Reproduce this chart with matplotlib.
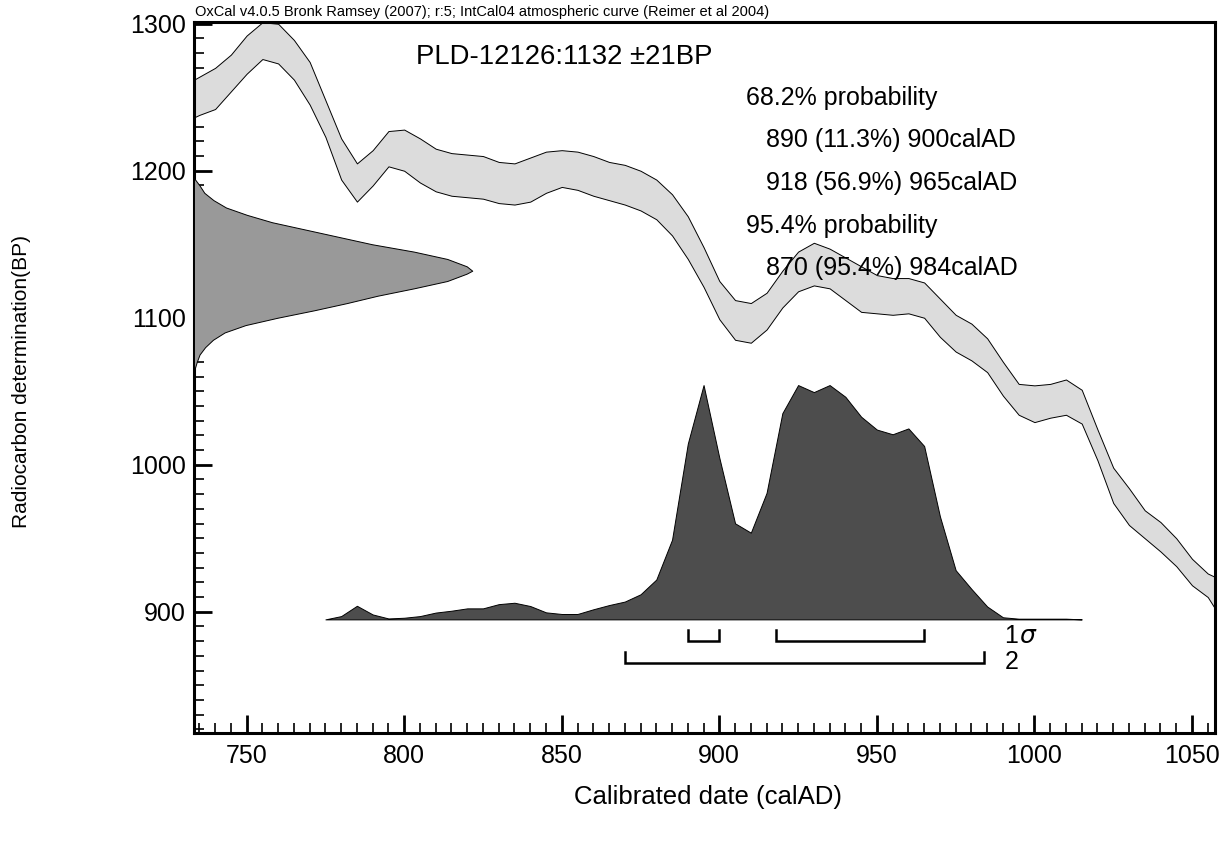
import numpy as np
import matplotlib.pyplot as plt
from matplotlib.ticker import MultipleLocator

plt.rcParams['font.family'] = ['Liberation Sans', 'DejaVu Sans']

# calibration curve IntCal04 (calAD, upper / lower limit in BP)
curve_ad = [730, 735, 740, 745, 750, 755, 760, 765, 770, 775, 780, 785, 790,
            795, 800, 805, 810, 815, 820, 825, 830, 835, 840, 845, 850, 855,
            860, 865, 870, 875, 880, 885, 890, 895, 900, 905, 910, 915, 920,
            925, 930, 935, 940, 945, 950, 955, 960, 965, 970, 975, 980, 985,
            990, 995, 1000, 1005, 1010, 1015, 1020, 1025, 1030, 1035, 1040,
            1045, 1050, 1055, 1060]
curve_hi = [1258, 1264, 1270, 1279, 1292, 1301, 1300, 1289, 1274, 1248, 1222,
            1205, 1214, 1227, 1228, 1222, 1215, 1212, 1211, 1210, 1206, 1205,
            1209, 1213, 1214, 1213, 1210, 1206, 1204, 1200, 1194, 1184, 1169,
            1148, 1125, 1112, 1110, 1117, 1132, 1145, 1151, 1147, 1141, 1135,
            1129, 1127, 1127, 1124, 1113, 1102, 1096, 1086, 1070, 1055, 1054,
            1055, 1058, 1051, 1024, 998, 984, 969, 961, 950, 936, 926, 921]
curve_lo = [1233, 1238, 1242, 1254, 1266, 1276, 1273, 1262, 1245, 1223, 1194,
            1179, 1190, 1203, 1200, 1192, 1186, 1183, 1182, 1181, 1178, 1177,
            1179, 1185, 1189, 1187, 1183, 1180, 1177, 1173, 1167, 1156, 1140,
            1121, 1099, 1085, 1083, 1092, 1107, 1118, 1122, 1120, 1112, 1104,
            1103, 1102, 1103, 1100, 1087, 1077, 1071, 1063, 1047, 1034, 1029,
            1032, 1034, 1028, 1003, 974, 959, 950, 941, 931, 918, 910, 893]

# radiocarbon measurement 1132 +/- 21 BP (relative probability)
date_bp = [1195, 1190, 1185, 1180, 1175, 1170, 1165, 1160, 1155, 1150, 1145,
           1140, 1135, 1132, 1130, 1125, 1120, 1115, 1110, 1105, 1100, 1095,
           1090, 1085, 1080, 1075, 1070, 1065]
date_p = [0.0, 0.02, 0.037, 0.07, 0.115, 0.19, 0.28, 0.40, 0.52, 0.64, 0.79,
          0.91, 0.98, 1.0, 0.98, 0.91, 0.79, 0.66, 0.55, 0.43, 0.30, 0.185,
          0.11, 0.068, 0.04, 0.02, 0.01, 0.002]

# calibrated date distribution (relative probability)
cal_ad = [775, 780, 785, 790, 795, 800, 805, 810, 815, 820, 825, 830, 835,
          840, 845, 850, 855, 860, 865, 870, 875, 880, 885, 890, 895, 900,
          905, 910, 915, 920, 925, 930, 935, 940, 945, 950, 955, 960, 965,
          970, 975, 980, 985, 990, 995, 1000, 1005, 1010, 1015]
cal_p = [0.0, 0.014, 0.058, 0.021, 0.004, 0.007, 0.014, 0.029, 0.037, 0.047,
         0.047, 0.065, 0.071, 0.057, 0.03, 0.023, 0.023, 0.043, 0.061, 0.076,
         0.107, 0.17, 0.34, 0.75, 1.0, 0.69, 0.41, 0.37, 0.54, 0.88, 1.0,
         0.97, 1.0, 0.95, 0.865, 0.81, 0.79, 0.815, 0.74, 0.44, 0.21, 0.13,
         0.055, 0.009, 0.003, 0.003, 0.003, 0.003, 0.0]

# ranges
sig1_ranges = [(890, 900), (918, 965)]
sig2_ranges = [(870, 984)]

header = "OxCal v4.0.5 Bronk Ramsey (2007); r:5; IntCal04 atmospheric curve (Reimer et al 2004)"
sample = "PLD-12126:1132 \u00b121BP"
prob_lines = [("68.2% probability", 0), ("890 (11.3%) 900calAD", 1),
              ("918 (56.9%) 965calAD", 1), ("95.4% probability", 0),
              ("870 (95.4%) 984calAD", 1)]

W, H = 1229, 841
fig = plt.figure(figsize=(W / 100, H / 100), dpi=100)
ax = fig.add_axes([194 / W, 1 - 733.3 / H, (1215 - 194) / W, (733.3 - 21.7) / H])

x0, x1 = 733.3, 1057.3
ax.set_xlim(x0, x1)
ax.set_ylim(817.3, 1301.4)

ax.fill_between(curve_ad, curve_lo, curve_hi, facecolor="#dcdcdc",
                edgecolor="black", lw=0.7, zorder=2)

ax.fill_betweenx(date_bp, x0, x0 + 88.3 * np.array(date_p), facecolor="#999999",
                 edgecolor="black", lw=0.7, zorder=3)

base = 894.8
ax.fill_between(cal_ad, base, base + 159.4 * np.array(cal_p), facecolor="#4d4d4d",
                edgecolor="black", lw=0.7, zorder=3)

# range brackets
for (lo, hi) in sig1_ranges:
    ax.plot([lo, lo, hi, hi], [887.6, 880.1, 880.1, 887.6], color="black",
            lw=1.8, solid_joinstyle="miter", zorder=4)
for (lo, hi) in sig2_ranges:
    ax.plot([lo, lo, hi, hi], [872.6, 865.1, 865.1, 872.6], color="black",
            lw=1.8, solid_joinstyle="miter", zorder=4)
ax.text(990.5, 883.5, "1", fontsize=18, va="center", ha="left")
ax.text(995.0, 883.5, "$\\sigma$", fontsize=18, va="center", ha="left")
ax.text(990.5, 865.5, "2", fontsize=18, va="center", ha="left")

ax.xaxis.set_major_locator(MultipleLocator(50))
ax.xaxis.set_minor_locator(MultipleLocator(5))
ax.yaxis.set_major_locator(MultipleLocator(100))
ax.yaxis.set_minor_locator(MultipleLocator(10))
ax.tick_params(which="both", direction="in", top=False, right=False, labelsize=18)
ax.tick_params(which="major", length=13, width=2)
ax.tick_params(which="minor", length=7, width=1.2)
ax.tick_params(axis="x", pad=8)
ax.tick_params(axis="y", pad=6)
for s in ax.spines.values():
    s.set_linewidth(2.2)

fig.text(195 / W, 1 - 12 / H, header, fontsize=10.5, va="center", ha="left")
fig.text(416 / W, 1 - 57 / H, sample, fontsize=19.8, va="center", ha="left")
for i, (line, indent) in enumerate(prob_lines):
    fig.text((746 + 20 * indent) / W, 1 - (98 + 42.5 * i) / H, line, fontsize=18,
             va="center", ha="left")

fig.text(708 / W, 1 - 797 / H, "Calibrated date (calAD)", fontsize=18.5, ha="center", va="center")
fig.text(22 / W, 1 - 382 / H, "Radiocarbon determination(BP)", fontsize=15,
         rotation=90, ha="center", va="center")

fig.savefig("out.png", dpi=100)
